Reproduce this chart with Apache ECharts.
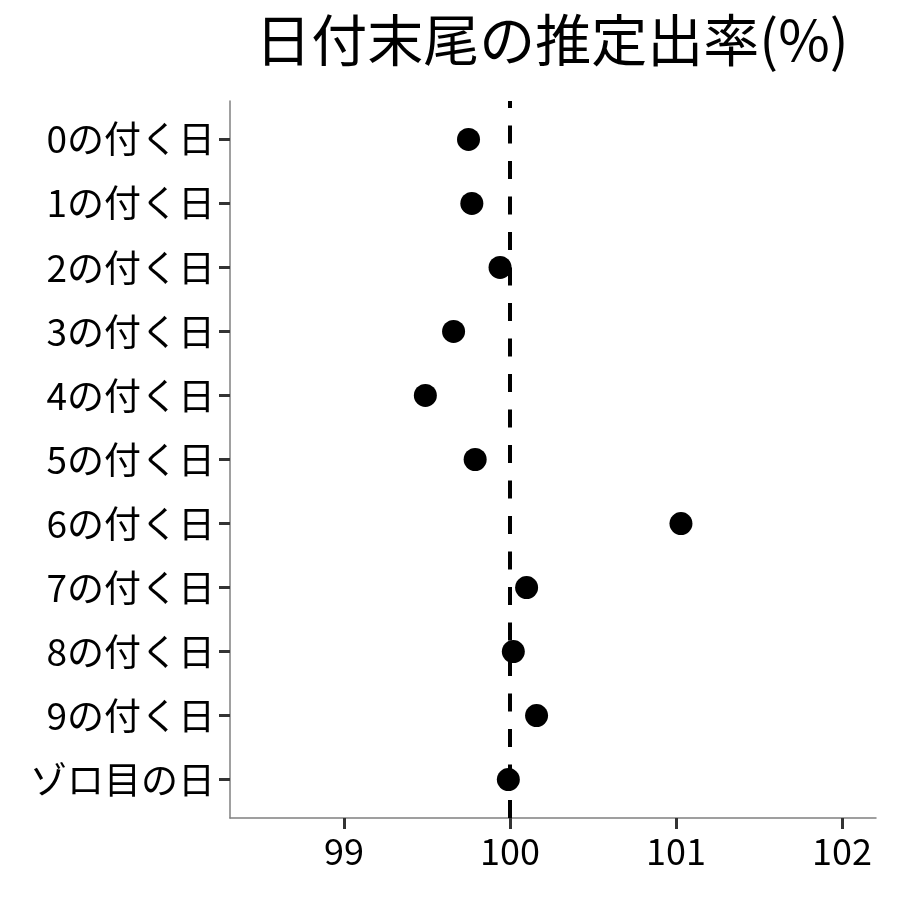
<!DOCTYPE html>
<html>
<head>
<meta charset="utf-8">
<script src="https://cdn.jsdelivr.net/npm/echarts@6/dist/echarts.min.js"></script>
<style>html,body{margin:0;padding:0;background:#fff}#c{width:900px;height:900px}</style>
</head>
<body>
<div id="c"></div>
<script>
var titleText = '日付末尾の推定出率(%)';
var categories = ['0の付く日','1の付く日','2の付く日','3の付く日','4の付く日','5の付く日','6の付く日','7の付く日','8の付く日','9の付く日','ゾロ目の日'];
var rates = [99.75, 99.77, 99.94, 99.66, 99.49, 99.79, 101.03, 100.10, 100.02, 100.16, 99.99];
var xTicks = [99, 100, 101, 102];
var refValue = 100;

var font = '"Noto Sans CJK JP", "Noto Sans", sans-serif';
var catIdx = categories.map(function(_, i){ return i; });

var chart = echarts.init(document.getElementById('c'), null, {renderer: 'canvas'});
chart.setOption({
  animation: false,
  backgroundColor: '#fff',
  title: {
    text: titleText,
    left: 547, textAlign: 'center', top: 7,
    textStyle: {fontFamily: font, fontSize: 56, fontWeight: 'normal', color: '#000'}
  },
  grid: {left: 230, right: 24, top: 101, bottom: 82, containLabel: false},
  xAxis: {
    type: 'value', min: 98.313, max: 102.205, position: 'bottom',
    splitLine: {show: false},
    axisLine: {show: true, onZero: false, lineStyle: {color: '#808080', width: 1.5}},
    axisTick: {show: true, length: 11, customValues: xTicks, lineStyle: {color: '#333', width: 3}},
    axisLabel: {customValues: xTicks, margin: 15, fontFamily: font, fontSize: 36, color: '#000'}
  },
  yAxis: {
    type: 'value', inverse: true, min: -0.6, max: 10.6,
    splitLine: {show: false},
    axisLine: {show: true, onZero: false, lineStyle: {color: '#808080', width: 1.5}},
    axisTick: {show: true, length: 11, customValues: catIdx, lineStyle: {color: '#333', width: 3}},
    axisLabel: {customValues: catIdx, margin: 15, fontFamily: font, fontSize: 37, color: '#000',
      formatter: function(v){ return categories[Math.round(v)]; }}
  },
  series: [{
    type: 'scatter',
    symbol: 'circle', symbolSize: 23,
    itemStyle: {color: '#000', opacity: 1},
    data: rates.map(function(v, i){ return [v, i]; }),
    z: 3,
    markLine: {
      silent: true, symbol: 'none', label: {show: false},
      lineStyle: {color: '#000', width: 4, type: [18, 17.5], dashOffset: 11, opacity: 1},
      data: [{xAxis: refValue}],
      z: 2
    }
  }]
});
</script>
</body>
</html>
